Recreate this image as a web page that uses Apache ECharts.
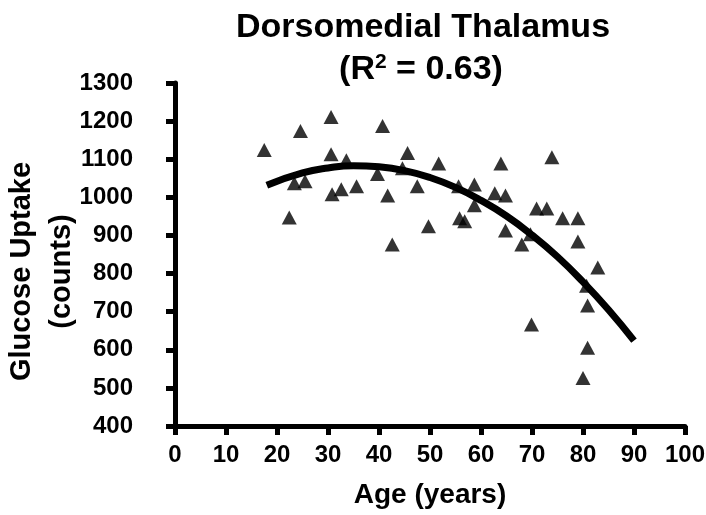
<!DOCTYPE html>
<html>
<head>
<meta charset="utf-8">
<script src="https://cdn.jsdelivr.net/npm/echarts@6/dist/echarts.min.js"></script>
<style>html,body{margin:0;padding:0;background:#fff}#c{width:706px;height:515px}</style>
</head>
<body>
<div id="c"></div>
<script>
var ageValues = [17.5,22.4,24.6,23.4,25.5,30.6,30.6,30.8,32.6,33.6,35.6,40.7,39.7,41.7,42.6,44.6,45.6,47.5,49.7,51.7,55.6,55.8,56.8,58.7,58.7,62.7,63.9,64.8,64.8,68.0,69.7,69.9,70.9,72.9,73.9,76.0,79.0,79.0,80.7,80.9,80.9,80.0,82.9];
var uptakeValues = [1124,947,1174,1037,1042,1211,1113,1008,1021,1097,1029,1187,1061,1005,876,1076,1116,1029,924,1089,1029,945,937,1034,979,1011,1089,1005,913,876,903,666,971,971,1105,945,945,884,768,716,605,526,816];
var fitAges = [18,25,30,35,40,45,50,55,60,65,70,75,80,85,90];
var fitValues = [1032,1064,1077,1083,1080,1070,1052,1026,992,951,901,844,778,705,624];
var xTicks = [0,10,20,30,40,50,60,70,80,90,100];
var yTicks = [400,500,600,700,800,900,1000,1100,1200,1300];

var scatterData = ageValues.map(function(a,i){return [a, uptakeValues[i]];});
var fitData = fitAges.map(function(a,i){return [a, fitValues[i]];});
var FONT = '"Liberation Sans", Arial, sans-serif';

var chart = echarts.init(document.getElementById('c'), null, {renderer:'canvas'});
chart.setOption({
  animation:false,
  backgroundColor:'#fff',
  title:[
    {
      text:'Dorsomedial Thalamus',
      left:423, top:11, padding:0, textAlign:'center',
      textStyle:{fontFamily:FONT,fontSize:34,fontWeight:'bold',color:'#000'}
    },
    {
      text:'{p|(R}{s|2}{p| = 0.63)}',
      left:421, top:52, padding:0, textAlign:'center',
      textStyle:{
        fontFamily:FONT,fontSize:34,fontWeight:'bold',color:'#000',
        rich:{
          p:{fontFamily:FONT,fontSize:34,fontWeight:'bold',color:'#000'},
          s:{fontFamily:FONT,fontSize:21,fontWeight:'bold',color:'#000',verticalAlign:'top',padding:[0,0,14,0]}
        }
      }
    }
  ],
  grid:{left:175,right:21,top:83,bottom:89,containLabel:false,outerBoundsMode:'none'},
  xAxis:{
    type:'value',min:xTicks[0],max:xTicks[xTicks.length-1],interval:10,
    name:'Age (years)',nameLocation:'middle',nameGap:55,nameMoveOverlap:false,
    nameTextStyle:{fontFamily:FONT,fontSize:28,fontWeight:'bold',color:'#000'},
    axisLine:{show:true,lineStyle:{color:'#000',width:5}},
    axisTick:{show:true,inside:false,length:9,lineStyle:{color:'#000',width:5}},
    axisLabel:{fontFamily:FONT,fontSize:24,fontWeight:'bold',color:'#000',margin:17},
    splitLine:{show:false}
  },
  yAxis:{
    type:'value',min:yTicks[0],max:yTicks[yTicks.length-1],interval:100,
    offset:15,
    name:'Glucose Uptake\n(counts)',nameLocation:'middle',nameGap:78,nameRotate:90,nameMoveOverlap:false,
    nameTextStyle:{fontFamily:FONT,fontSize:29,fontWeight:'bold',color:'#000',lineHeight:40,align:'center',padding:[0,34,0,0]},
    axisLine:{show:true,lineStyle:{color:'#000',width:5}},
    axisTick:{show:true,inside:false,length:9,lineStyle:{color:'#000',width:5}},
    axisLabel:{fontFamily:FONT,fontSize:24,fontWeight:'bold',color:'#000',margin:27,
      formatter:function(v){return String(v);}},
    splitLine:{show:false}
  },
  series:[
    {
      type:'line',data:fitData,smooth:true,showSymbol:false,symbol:'none',
      lineStyle:{color:'#000',width:7},z:2
    },
    {
      type:'scatter',data:scatterData,symbol:'triangle',symbolSize:[15,14],
      itemStyle:{color:'#000'},z:3
    }
  ]
});
</script>
</body>
</html>
